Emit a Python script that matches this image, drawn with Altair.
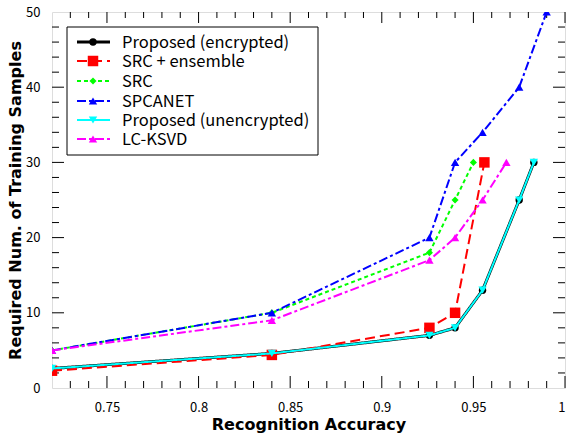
import altair as alt
import pandas as pd

# ---- data ----
series_names = ["Proposed (encrypted)", "SRC + ensemble", "SRC", "SPCANET",
                "Proposed (unencrypted)", "LC-KSVD"]

acc_enc = [0.72, 0.84, 0.926, 0.94, 0.955, 0.975, 0.983]
num_enc = [2.6, 4.6, 7, 8, 13, 25, 30]

acc_ens = [0.72, 0.84, 0.926, 0.94, 0.956]
num_ens = [2.3, 4.4, 8, 10, 30]

acc_src = [0.72, 0.84, 0.926, 0.94, 0.95]
num_src = [5, 10, 18, 25, 30]

acc_spc = [0.72, 0.84, 0.926, 0.94, 0.955, 0.975, 0.99]
num_spc = [5, 10, 20, 30, 34, 40, 50]

acc_unenc = [0.72, 0.84, 0.926, 0.94, 0.955, 0.975, 0.983]
num_unenc = [2.6, 4.6, 7, 8, 13, 25, 30]

acc_lc = [0.72, 0.84, 0.926, 0.94, 0.955, 0.968]
num_lc = [5, 9, 17, 20, 25, 30]

x_major = [0.75, 0.8, 0.85, 0.9, 0.95, 1.0]
x_minor = [0.73, 0.74, 0.76, 0.77, 0.78, 0.79, 0.81, 0.82, 0.83, 0.84,
           0.86, 0.87, 0.88, 0.89, 0.91, 0.92, 0.93, 0.94, 0.96, 0.97, 0.98, 0.99]
y_major = [10, 20, 30, 40]
y_minor = [2, 4, 6, 8, 12, 14, 16, 18, 22, 24, 26, 28, 32, 34, 36, 38, 42, 44, 46, 48]
y_labels = [0, 10, 20, 30, 40, 50]

# ---- styles ----
styles = [
    dict(color="#000000", dash=[1, 0], shape="circle", size=55, width=3),
    dict(color="#ff0000", dash=[10, 5], shape="square", size=110, width=2),
    dict(color="#00ff00", dash=[4, 3], shape="diamond", size=50, width=2),
    dict(color="#0000ff", dash=[9, 3, 3, 3], shape="triangle-up", size=70, width=2),
    dict(color="#00ffff", dash=[1, 0], shape="triangle-down", size=70, width=2),
    dict(color="#ff00ff", dash=[9, 3, 3, 3], shape="triangle-up", size=70, width=2),
]
all_data = [(acc_enc, num_enc), (acc_ens, num_ens), (acc_src, num_src),
            (acc_spc, num_spc), (acc_unenc, num_unenc), (acc_lc, num_lc)]

W, H = 513, 376
xscale = alt.Scale(domain=[0.72, 1.0], nice=False, zero=False)
yscale = alt.Scale(domain=[0, 50], nice=False)

label_font = "Noto Sans CJK JP"
title_font = "DejaVu Sans"

# base axes (labels + titles only)
axes_df = pd.DataFrame({"x": [0.72], "y": [0]})
base = alt.Chart(axes_df).mark_point(opacity=0).encode(
    x=alt.X("x:Q", scale=xscale,
            axis=alt.Axis(values=x_major, format="~g", ticks=False, grid=False,
                          domain=False, labelFont=label_font, labelFontSize=13,
                          labelPadding=13, title="Recognition Accuracy",
                          titleFont=title_font, titleFontSize=16,
                          titleFontWeight="bold", titlePadding=2,
                          labelColor="black", titleColor="black",
                          labelAlign=alt.ExprRef(expr="datum.value >= 1 ? 'right' : 'center'"),
                          labelFlush=False)),
    y=alt.Y("y:Q", scale=yscale,
            axis=alt.Axis(values=y_labels, ticks=False, grid=False, domain=False,
                          labelFont=label_font, labelFontSize=13, labelPadding=12,
                          title="Required Num. of Training Samples",
                          titleFont=title_font, titleFontSize=16,
                          titleFontWeight="bold", titlePadding=2,
                          labelColor="black", titleColor="black",
                          labelFlush=False)),
)

layers = [base]

# tick marks (inside, all four sides)
def xticks(vals, length):
    df = pd.DataFrame({"v": vals})
    bot = alt.Chart(df).mark_rule(color="black", strokeWidth=1).encode(
        x=alt.X("v:Q", scale=xscale), y=alt.value(H), y2=alt.value(H - length))
    top = alt.Chart(df).mark_rule(color="black", strokeWidth=1).encode(
        x=alt.X("v:Q", scale=xscale), y=alt.value(0), y2=alt.value(length - 1))
    return [bot, top]

def yticks(vals, length):
    df = pd.DataFrame({"v": vals})
    left = alt.Chart(df).mark_rule(color="black", strokeWidth=1).encode(
        y=alt.Y("v:Q", scale=yscale), x=alt.value(0), x2=alt.value(length))
    right = alt.Chart(df).mark_rule(color="black", strokeWidth=1).encode(
        y=alt.Y("v:Q", scale=yscale), x=alt.value(W), x2=alt.value(W - length))
    return [left, right]

layers += xticks(x_minor, 7) + xticks(x_major, 12)
layers += yticks(y_minor, 7) + yticks(y_major, 12)

# series
for name, st, (xs, ys) in zip(series_names, styles, all_data):
    df = pd.DataFrame({"acc": xs, "num": ys, "series": name})
    line = alt.Chart(df).mark_line(color=st["color"], strokeDash=st["dash"],
                                   strokeWidth=st["width"], clip=True).encode(
        x=alt.X("acc:Q", scale=xscale), y=alt.Y("num:Q", scale=yscale))
    pts = alt.Chart(df).mark_point(color=st["color"], fill=st["color"], filled=True,
                                   opacity=1, shape=st["shape"], size=st["size"],
                                   clip=True).encode(
        x=alt.X("acc:Q", scale=xscale), y=alt.Y("num:Q", scale=yscale))
    layers += [line, pts]

# manual legend
box_df = pd.DataFrame({"k": [0]})
layers.append(alt.Chart(box_df).mark_rect(fill="white", stroke="black",
                                          strokeWidth=1).encode(
    x=alt.value(15), x2=alt.value(266), y=alt.value(15), y2=alt.value(143)))
row_y = [30, 49, 69, 89, 108, 127]
for name, st, ry in zip(series_names, styles, row_y):
    df = pd.DataFrame({"name": [name]})
    layers.append(alt.Chart(df).mark_rule(color=st["color"], strokeDash=st["dash"],
                                          strokeWidth=st["width"]).encode(
        x=alt.value(25), x2=alt.value(58), y=alt.value(ry)))
    layers.append(alt.Chart(df).mark_point(color=st["color"], fill=st["color"],
                                           filled=True, opacity=1, shape=st["shape"],
                                           size=st["size"]).encode(
        x=alt.value(41), y=alt.value(ry)))
    layers.append(alt.Chart(df).mark_text(align="left", baseline="middle",
                                          font=label_font, fontSize=16.5,
                                          color="black").encode(
        x=alt.value(70), y=alt.value(ry + 1), text="name:N"))

chart = alt.layer(*layers).properties(
    width=W, height=H,
    autosize=alt.AutoSizeParams(type="none"),
    padding={"left": 52, "top": 12, "right": 1, "bottom": 48},
).configure_view(stroke="black", strokeWidth=1).configure(background="white")

chart.save("out.html", embed_options={"renderer": "svg", "actions": False})
